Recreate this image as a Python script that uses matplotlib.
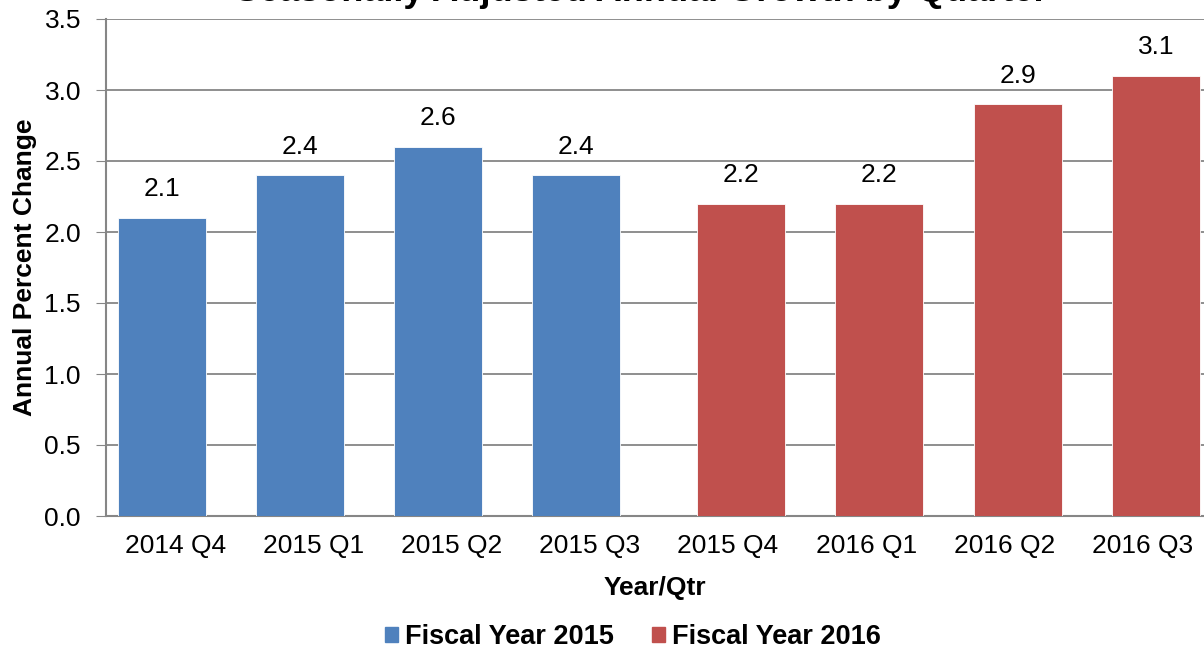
import matplotlib
matplotlib.use("Agg")
from matplotlib import pyplot as plt
from matplotlib.patches import Patch
import numpy as np

plt.rcParams['font.family'] = ['Liberation Sans', 'DejaVu Sans']

quarters = ['2014 Q4', '2015 Q1', '2015 Q2', '2015 Q3',
            '2015 Q4', '2016 Q1', '2016 Q2', '2016 Q3']
growth = [2.1, 2.4, 2.6, 2.4, 2.2, 2.2, 2.9, 3.1]
fiscal_year = ['Fiscal Year 2015'] * 4 + ['Fiscal Year 2016'] * 4
fy_colors = {'Fiscal Year 2015': '#4F81BD', 'Fiscal Year 2016': '#C0504D'}
title = 'Seasonally Adjusted Annual Growth by Quarter'

fig = plt.figure(figsize=(12.04, 6.52), dpi=100)
ax = fig.add_axes([106/1204, 1 - 516/652, 1 - 106/1204, (516 - 19)/652])

x = np.arange(len(quarters))
# two series per category in the original (one empty), so bars sit off-centre
offsets = {'Fiscal Year 2015': -0.096, 'Fiscal Year 2016': 0.096}
xpos = x + np.array([offsets[f] for f in fiscal_year])
colors = [fy_colors[f] for f in fiscal_year]
ax.bar(xpos, growth, width=0.637, color=colors, edgecolor='white',
       linewidth=0.6, zorder=3)

for xi, v in zip(xpos, growth):
    ax.annotate(f'{v:.1f}', (xi, v), xytext=(0, 12), textcoords='offset points',
                ha='center', va='bottom', fontsize=19)

ax.set_xlim(-0.5, len(quarters) - 0.555)
ax.set_ylim(0, 3.5)
yt = np.arange(0, 3.51, 0.5)
ax.set_yticks(yt)
ax.set_yticklabels([f'{t:.1f}' for t in yt])
ax.set_xticks(x)
ax.set_xticklabels(quarters)
ax.tick_params(axis='y', labelsize=19, length=7, color='#868686', pad=11)
ax.tick_params(axis='x', labelsize=19, length=0, pad=13)
ax.yaxis.grid(True, color='#868686', linewidth=1.3, zorder=0)
ax.set_axisbelow(True)
for s in ['top', 'right']:
    ax.spines[s].set_visible(False)
for s in ['left', 'bottom']:
    ax.spines[s].set_color('#868686')
    ax.spines[s].set_linewidth(1.5)

ax.set_xlabel('Year/Qtr', fontsize=19, fontweight='bold', labelpad=13)
ax.set_ylabel('Annual Percent Change', fontsize=19, fontweight='bold', labelpad=5)

fig.text(0.533, 1 - 1/652, title, ha='center', va='baseline',
         fontsize=26, fontweight='bold')

handles = [Patch(color=fy_colors[k], label=k) for k in fy_colors]
fig.legend(handles=handles, loc='center', bbox_to_anchor=(0.5257, 1 - 637/652),
           ncol=2, frameon=False, handlelength=0.48, handleheight=0.48,
           handletextpad=0.25, columnspacing=1.4,
           prop={'size': 19.5, 'weight': 'bold'})

fig.savefig('out.png', dpi=100)
